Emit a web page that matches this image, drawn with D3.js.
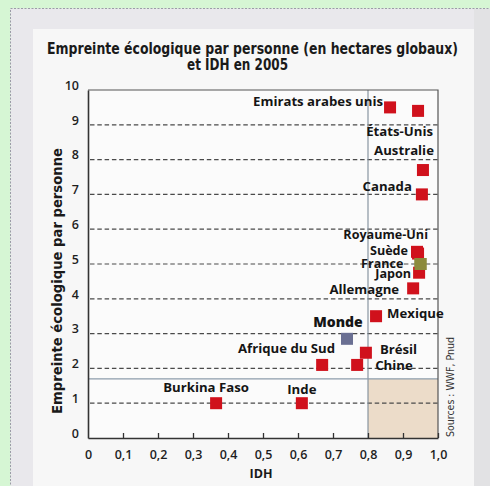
<!DOCTYPE html>
<html><head><meta charset="utf-8">
<script src="https://cdn.jsdelivr.net/npm/d3@7"></script>
<style>
html,body{margin:0;padding:0;background:#d6f6d4;}
svg{display:block;}
</style></head>
<body>
<svg id="c" width="490" height="486"></svg>
<script>
// ---- data ----
const countries = ["Emirats arabes unis","États-Unis","Australie","Canada","Royaume-Uni","Suède","France","Japon","Allemagne","Mexique","Monde","Brésil","Chine","Afrique du Sud","Inde","Burkina Faso"];
const idh       = [0.863,0.943,0.957,0.954,0.940,0.943,0.950,0.946,0.929,0.823,0.740,0.794,0.769,0.669,0.611,0.366];
const footprint = [9.5,  9.4,  7.7,  7.0,  5.35, 5.3,  5.0,  4.75, 4.3,  3.5,  2.85, 2.45, 2.1,  2.1,  1.0,  1.0];
const xTicks = [0,0.1,0.2,0.3,0.4,0.5,0.6,0.7,0.8,0.9,1.0];
const yTicks = [0,1,2,3,4,5,6,7,8,9,10];
const idhThreshold = 0.8;
const biocapacity = 1.7;

// ---- label layout (px offsets from marker centre) ----
const labelLayout = {
  "Emirats arabes unis":{a:"end",dx:-7,dy:-1},
  "États-Unis":{a:"end",dx:15,dy:25},
  "Australie":{a:"end",dx:11,dy:-15},
  "Canada":{a:"end",dx:-10,dy:-3},
  "Royaume-Uni":{a:"end",dx:11,dy:-13},
  "Suède":{a:"end",dx:-10,dy:1},
  "France":{a:"end",dx:-17,dy:4},
  "Japon":{a:"end",dx:-8,dy:5.5},
  "Allemagne":{a:"end",dx:-14,dy:6},
  "Mexique":{a:"start",dx:11,dy:2},
  "Monde":{a:"middle",dx:-9,dy:-12},
  "Brésil":{a:"start",dx:14,dy:1},
  "Chine":{a:"start",dx:18,dy:5.5},
  "Afrique du Sud":{a:"end",dx:13,dy:-11.5},
  "Inde":{a:"middle",dx:0,dy:-9.5},
  "Burkina Faso":{a:"middle",dx:-10,dy:-11}
};
const markerColor = {"France":"#8c8a3c","Monde":"#6a6f92"};

const svg = d3.select("#c");
const narrow = "'Liberation Sans Narrow','DejaVu Sans Condensed','Roboto Condensed',sans-serif";
const human = "'Open Sans','Noto Sans',sans-serif";

// background panels
svg.append("rect").attr("x",0).attr("y",0).attr("width",490).attr("height",486).attr("fill","#d6f6d4");
svg.append("rect").attr("x",10.5).attr("y",8.5).attr("width",490).attr("height",490)
  .attr("fill","#e9e8ec").attr("stroke","#9c9ba8").attr("stroke-dasharray","2,1.5");
svg.append("rect").attr("x",33).attr("y",29).attr("width",441).attr("height",460).attr("fill","#f7f7f7");
svg.append("rect").attr("x",474).attr("y",9).attr("width",16).attr("height",477).attr("fill","#e2e2e4");

const x = d3.scaleLinear().domain([0,1]).range([88,438]);
const y = d3.scaleLinear().domain([0,10]).range([438,90]);

// plot bg
svg.append("rect").attr("x",x(0)).attr("y",y(10)).attr("width",x(1)-x(0)).attr("height",y(0)-y(10)).attr("fill","#fbfbfb");
// shaded zone
svg.append("rect").attr("x",x(idhThreshold)).attr("y",y(biocapacity))
  .attr("width",x(1)-x(idhThreshold)).attr("height",y(0)-y(biocapacity)).attr("fill","#ecdcc9");

// dashed gridlines
svg.append("g").selectAll("line").data(yTicks.filter(d=>d>0&&d<10)).join("line")
  .attr("x1",x(0)+2).attr("x2",x(1)).attr("y1",d=>y(d)).attr("y2",d=>y(d))
  .attr("stroke","#4a4a4a").attr("stroke-width",1.2).attr("stroke-dasharray","4.5,2.8");

// reference lines
svg.append("line").attr("x1",x(idhThreshold)).attr("x2",x(idhThreshold)).attr("y1",y(10)).attr("y2",y(0))
  .attr("stroke","#7f8c99").attr("stroke-width",1.1);
svg.append("line").attr("x1",x(0)).attr("x2",x(1)).attr("y1",y(biocapacity)).attr("y2",y(biocapacity))
  .attr("stroke","#8d9cab").attr("stroke-width",1.3);

// frame top/right
svg.append("path").attr("d",`M${x(0)},${y(10)}H${x(1)}V${y(0)}`).attr("fill","none")
  .attr("stroke","#555").attr("stroke-width",1.2);

// axes
const fmt = d => d===0 ? "0" : d3.format(".1f")(d).replace(".",",");
const xa = svg.append("g").attr("transform",`translate(0,${y(0)})`)
  .call(d3.axisBottom(x).tickValues(xTicks).tickSize(-5).tickSizeOuter(0).tickPadding(12).tickFormat(fmt));
xa.selectAll(".tick").filter(d=>d===0).select("line").remove();
xa.select(".domain").attr("stroke","#333").attr("stroke-width",1.6);
xa.selectAll(".tick line").attr("stroke","#333").attr("stroke-width",1.3);
xa.selectAll("text").attr("font-family",human).attr("font-weight",600).attr("font-size",12.5).attr("fill","#1e1e1e");

const ya = svg.append("g").attr("transform",`translate(${x(0)},0)`)
  .call(d3.axisLeft(y).tickValues(yTicks).tickSize(0).tickSizeOuter(0).tickPadding(9).tickFormat(d3.format("d")));
ya.select(".domain").attr("stroke","#333").attr("stroke-width",1.6);
ya.selectAll("text").attr("font-family",human).attr("font-weight",600).attr("font-size",12.5).attr("fill","#1e1e1e").attr("dy","-0.05em");

// markers
const pts = countries.map((c,i)=>({c, v:idh[i], f:footprint[i]}));
const S = 12;
svg.append("g").selectAll("rect").data(pts).join("rect")
  .attr("x",d=>x(d.v)-S/2).attr("y",d=>y(d.f)-S/2).attr("width",S).attr("height",S)
  .attr("fill",d=>markerColor[d.c]||"#d0111c");
// re-draw olive France on top
svg.append("rect").datum(pts.find(p=>p.c==="France"))
  .attr("x",d=>x(d.v)-S/2).attr("y",d=>y(d.f)-S/2).attr("width",S).attr("height",S).attr("fill","#8c8a3c");

// labels
const cluster = new Set(["Royaume-Uni","Suède","France","Japon"]);
svg.append("g").selectAll("text").data(pts).join("text")
  .attr("x",d=>x(d.v)+labelLayout[d.c].dx).attr("y",d=>y(d.f)+labelLayout[d.c].dy)
  .attr("text-anchor",d=>labelLayout[d.c].a)
  .attr("font-family",human).attr("font-weight",d=>d.c==="Monde"?800:700)
  .attr("font-size",d=>d.c==="Monde"?14:(cluster.has(d.c)?12.6:13.2)).attr("fill","#151515")
  .text(d=>d.c);

// title
svg.append("text").attr("x",252.5).attr("y",54).attr("text-anchor","middle")
  .attr("font-family",narrow).attr("font-weight",700).attr("font-size",15).attr("fill","#1a1a1a")
  .attr("textLength",411).attr("lengthAdjust","spacingAndGlyphs")
  .text("Empreinte écologique par personne (en hectares globaux)");
svg.append("text").attr("x",237.5).attr("y",70).attr("text-anchor","middle")
  .attr("font-family",narrow).attr("font-weight",700).attr("font-size",15).attr("fill","#1a1a1a")
  .attr("textLength",101).attr("lengthAdjust","spacingAndGlyphs")
  .text("et IDH en 2005");

// axis titles
svg.append("text").attr("transform","translate(62,281) rotate(-90)").attr("text-anchor","middle")
  .attr("font-family",narrow).attr("font-weight",700).attr("font-size",13.5).attr("fill","#1a1a1a")
  .attr("textLength",266).attr("lengthAdjust","spacingAndGlyphs")
  .text("Empreinte écologique par personne");
svg.append("text").attr("x",261).attr("y",478).attr("text-anchor","middle")
  .attr("font-family",human).attr("font-weight",700).attr("font-size",12.5).attr("fill","#1a1a1a")
  .text("IDH");

// source
svg.append("text").attr("transform","translate(454,387) rotate(-90)").attr("text-anchor","middle")
  .attr("font-family",narrow).attr("font-size",10).attr("fill","#333")
  .attr("textLength",100).attr("lengthAdjust","spacingAndGlyphs")
  .text("Sources : WWF, Pnud");
</script>
</body></html>
